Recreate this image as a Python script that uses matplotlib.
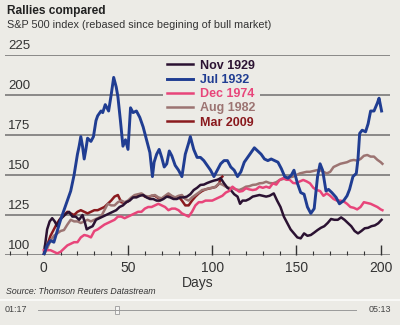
import matplotlib
matplotlib.use('Agg')
import matplotlib.pyplot as plt
from matplotlib import font_manager
from matplotlib.ticker import MultipleLocator

# --- data (days since start of rally, rebased index) ---
nov1929_days = [0, 1, 2, 3.5, 5, 6.5, 8, 9.5, 11.5, 13.5, 15, 17, 19, 21, 23, 24.5, 25.5, 27, 29, 31, 33, 35, 37,
                39, 41, 43, 45, 47, 49, 51, 53, 55, 57, 59, 61, 63, 65, 67, 69, 71, 73, 75, 77, 79, 81, 83, 85, 87,
                89, 91, 93, 95, 97, 99, 101, 103, 105, 107, 109, 111, 113, 115, 116.5, 118, 120, 122, 124, 126,
                128, 130, 132, 134, 136.5, 138.5, 140.5, 142.5, 144.5, 146.5, 148.5, 150.5, 152.5, 154.5, 156.5,
                158.5, 160.5, 162.5, 164.5, 166.5, 168.5, 170.5, 172.5, 174.5, 176.5, 178.5, 180.5, 182.5, 184.5,
                186.5, 188.5, 190.5, 192.5, 194.5, 196.5, 198.5, 200.5]
nov1929_vals = [100, 108, 116, 121, 123, 121, 118, 122, 124, 126, 127, 124, 124, 122, 125, 120, 116, 117, 118, 122,
                123, 124, 125, 126, 127, 128, 130, 131, 133, 134, 136, 136, 137, 137.5, 136, 135, 135, 134, 134,
                135, 136.5, 136, 135, 135, 136, 136, 136.5, 138, 140.6, 142, 143.8, 144, 145, 145.8, 146.5, 147,
                148, 144.8, 142, 140.6, 138, 136.5, 132, 134, 134, 135, 136.5, 137, 137.5, 137, 136.5, 137, 138.5,
                134, 130, 124, 120, 116, 113.5, 111, 110.4, 113.5, 112, 112.5, 114, 115.6, 117, 118, 120, 122.5,
                122, 122, 123.5, 122, 120, 118, 115, 113.5, 115, 116.7, 117, 118, 118.5, 119.8, 122]

jul1932_days = [0, 2, 4, 6, 8, 10, 12, 14, 16, 18, 20, 21, 22, 23, 24, 25, 26, 28, 29.5, 31, 32, 34, 35, 36.5, 38.5,
                40, 41.5, 43, 44, 45.5, 47, 48.5, 50, 51.5, 53, 55, 57, 59, 61, 63, 64.5, 65.5, 67, 68.5, 70, 71.5,
                73, 74.5, 76, 78, 80, 82, 84, 86, 87, 89, 91, 93, 95, 97, 99, 101, 103, 105, 107, 109, 111, 113,
                115, 117, 119, 121, 123, 125, 127, 129, 131, 133, 135, 137, 139, 141, 143, 145, 147, 148.5, 150.5,
                152.5, 154.5, 156.5, 158.5, 160.5, 162.5, 164, 165.5, 167.5, 169, 171, 173.5, 175.5, 178, 180,
                181.5, 183.5, 185.5, 186.5, 187.5, 189, 191, 192.5, 194, 196, 198, 199, 200.5]
jul1932_vals = [100, 106, 109, 108, 115, 122, 128, 134, 140, 150, 163, 168, 174, 168, 160, 166, 173, 171, 174, 184,
                187, 190, 189, 194, 190, 200, 211, 205, 199, 184, 168, 172, 166, 192, 189, 190, 186, 180, 172, 164,
                149, 158, 163, 166, 161, 155, 157, 165, 162, 156, 153, 149, 163, 170, 174, 166, 161, 161, 159, 156,
                153, 149, 153, 157, 159, 159, 155, 153, 149, 152, 158, 161, 164, 167, 165, 163, 160, 159, 160, 159,
                158, 154, 149, 148, 150, 153, 145, 139, 138, 130, 126, 129, 149, 157, 153, 140, 141, 139, 136, 132,
                134, 137, 141, 149, 151, 160, 176, 178, 177, 182, 190, 190, 195, 198, 190]

dec1974_days = [0, 2, 4, 6, 8, 10, 12, 14, 16, 18, 20, 22, 24, 26, 28, 30, 32, 34, 36, 38, 40, 42, 44, 46, 48, 50,
                52, 54, 56, 58, 60, 62, 64, 66, 68, 70, 72, 74, 76, 78, 80, 82, 84, 86, 88, 90, 92, 94, 96, 98, 100,
                102, 104, 106, 108, 110, 112, 114, 116, 118, 120, 122, 124, 126, 128, 130, 132, 134, 136, 138, 140,
                142, 144, 146, 148, 150, 152, 154, 156, 158, 160, 162, 164, 166, 168, 170, 172, 174, 176, 178, 180,
                182, 184, 186, 188, 190, 192, 194, 196, 198, 200, 201]
dec1974_vals = [103, 103, 103, 102, 101, 102, 104, 106, 107, 108, 108, 111, 112.5, 112, 111, 115, 116, 117.5, 119,
                120, 121, 122, 124, 124, 123, 124, 125, 126, 127, 127, 129, 130, 130, 131, 132, 131, 130, 128, 129,
                129, 128, 126, 125, 124, 127, 131, 133, 133, 134, 134, 134, 135, 136, 137, 139, 140, 142.7, 141,
                139.6, 140, 141.7, 141, 140.6, 141, 142.7, 142, 142.7, 142, 144.8, 144, 146.9, 148, 147, 147, 145,
                144.8, 146, 146.9, 146, 144.8, 142, 140.6, 140, 137, 138.5, 137, 135, 134, 134, 133.5, 132, 130,
                129.5, 128.5, 130, 133, 132.5, 132, 131, 130, 128.5, 128]

aug1982_days = [0, 2, 4, 6, 8, 10, 12, 14, 16, 18, 20, 22, 24, 26, 28, 30, 32, 34, 36, 38, 40, 42, 44, 46, 48, 50,
                52, 54, 56, 58, 60, 62, 64, 66, 68, 70, 72, 74, 76, 78, 80, 82, 84, 86, 88, 90, 92, 94, 96, 98, 100,
                102, 104, 106, 108, 110, 112, 114, 116, 118, 120, 122, 124, 126, 128, 130, 132, 134, 136, 138, 140,
                142, 144, 146, 148, 150, 152, 154, 156, 158, 160, 162, 164, 166, 168, 170, 172, 174, 176, 178, 180,
                182, 184, 186, 188, 190, 192, 194, 196, 198, 200, 201]
aug1982_vals = [100, 104, 109, 112, 113.5, 115, 115.6, 119, 122, 121, 121, 120, 121, 122, 121, 122, 123, 124, 128,
                132, 131, 131, 133, 134, 133, 134, 136, 137.5, 138, 138.5, 137, 136.5, 137, 137.5, 136, 135.4, 137,
                138.5, 137, 136, 137, 137.5, 135, 134, 136, 137.5, 139, 140.6, 141, 141.7, 142, 142.7, 144.8, 144,
                142.7, 142, 141.7, 141, 140.6, 141.5, 142.7, 143, 143.8, 144, 144.8, 145, 145.8, 145, 144.8, 145.5,
                146.9, 147.5, 148, 148.5, 149, 150, 151, 151.5, 152, 152, 152.5, 153, 153, 152, 151, 152, 155, 156,
                157, 157.5, 158, 159, 159.4, 159, 160, 162, 162.5, 161.5, 161.5, 159.5, 158, 157]

mar2009_days = [0, 2, 4, 6, 8, 10, 12, 14, 16, 18, 20, 22, 24, 26, 28, 30, 32, 34, 36, 38, 40, 42, 44, 46, 48, 50,
                52, 54, 56, 58, 60, 62, 64, 66, 68, 70, 72, 74, 76, 78, 80, 82, 84, 86, 88, 90, 92, 94, 96, 98, 100,
                102, 104, 105, 106]
mar2009_vals = [100, 106, 112, 116, 120, 123, 125, 127, 126, 125, 127, 128, 127, 126, 127, 128, 128, 129, 130, 132,
                134, 136.5, 137.5, 133, 132.5, 133.5, 135.5, 137, 137.5, 138, 136.5, 136, 137, 137, 135.5, 135,
                136.5, 138, 136.5, 135.5, 136.5, 134, 131, 131, 134, 136.5, 138.5, 140, 141, 141.5, 142, 142.5,
                144.5, 148, 149]

y_ticks = [100, 125, 150, 175, 200, 225]
x_ticks = [0, 50, 100, 150, 200]

# --- style ---
BG = '#ecebe6'
GRID = '#6f6f6f'
TXT = '#333333'
names = {f.name for f in font_manager.fontManager.ttflist}
NARROW = 'Liberation Sans Narrow' if 'Liberation Sans Narrow' in names else 'Liberation Sans'
plt.rcParams['font.family'] = [NARROW, 'DejaVu Sans']

fig = plt.figure(figsize=(4, 3.25), dpi=100, facecolor=BG)
W, H = 400.0, 325.0
# axes spans the gridlines: x 5..390 px, y 55..255 px from top
ax = fig.add_axes([5 / W, 1 - 255 / H, 385 / W, 200 / H])
ax.set_facecolor(BG)
ax.set_xlim(-23, 205.5)
ax.set_ylim(100, 225)

for s in ax.spines.values():
    s.set_visible(False)

for yv in y_ticks:
    ax.axhline(yv, color=GRID, lw=1.1, zorder=1)
    ax.text(0.008, yv + 1.6, str(yv), transform=ax.get_yaxis_transform(), fontsize=9.5,
            color=TXT, va='bottom', ha='left')
ax.set_yticks([])

ax.xaxis.set_major_locator(MultipleLocator(50))
ax.xaxis.set_minor_locator(MultipleLocator(10))
ax.tick_params(axis='x', which='major', direction='in', length=7, width=1, color=TXT,
               labelsize=10, labelcolor=TXT, pad=4)
ax.tick_params(axis='x', which='minor', direction='in', length=3, width=0.8, color=TXT)
ax.set_xticks(x_ticks)
ax.set_xticklabels([str(x) for x in x_ticks])
ax.set_xlabel('Days', fontsize=10, color=TXT, labelpad=1)

lw = 1.8
l_mar, = ax.plot(mar2009_days, mar2009_vals, color='#8a1a1e', lw=lw, zorder=2, label='Mar 2009')
l_aug, = ax.plot(aug1982_days, aug1982_vals, color='#9c7472', lw=lw, zorder=3, label='Aug 1982')
l_nov, = ax.plot(nov1929_days, nov1929_vals, color='#2b1232', lw=lw, zorder=4, label='Nov 1929')
l_dec, = ax.plot(dec1974_days, dec1974_vals, color='#e8457a', lw=lw, zorder=5, label='Dec 1974')
l_jul, = ax.plot(jul1932_days, jul1932_vals, color='#203d92', lw=lw + 0.3, zorder=6, label='Jul 1932')

handles = [l_nov, l_jul, l_dec, l_aug, l_mar]
leg = ax.legend(handles=handles, loc='upper left', bbox_to_anchor=(163 / W, 1 - 56 / H),
                bbox_transform=fig.transFigure, frameon=True, facecolor=BG, edgecolor='none',
                framealpha=1, fancybox=False, handlelength=2.1, handletextpad=0.6,
                labelspacing=0.18, borderpad=0.3, borderaxespad=0,
                prop={'weight': 'bold', 'size': 9})
leg.set_zorder(10)
for txt, h in zip(leg.get_texts(), handles):
    txt.set_color(h.get_color())

# titles and source
fig.text(7 / W, 1 - 11 / H, 'Rallies compared', fontsize=8.6, fontweight='bold', color='#222222',
         va='center', ha='left')
fig.text(7 / W, 1 - 25 / H, 'S&P 500 index (rebased since begining of bull market)', fontsize=7.8,
         color=TXT, va='center', ha='left')
fig.text(6 / W, 1 - 292 / H, 'Source: Thomson Reuters Datastream', fontsize=6.3, style='italic',
         color=TXT, va='center', ha='left')

# video player strip at the bottom
fig.add_artist(plt.Line2D([0, 1], [1 - 300 / H] * 2, color='#fbfbfa', lw=1.2))
fig.text(5 / W, 1 - 310 / H, '01:17', fontsize=6.5, color='#444444', va='center', ha='left')
fig.text(391 / W, 1 - 310 / H, '05:13', fontsize=6.5, color='#444444', va='center', ha='right')
fig.add_artist(plt.Line2D([38 / W, 356 / W], [1 - 310 / H] * 2, color='#9a9a9a', lw=0.7))
fig.add_artist(plt.Rectangle((115 / W, 1 - 314 / H), 4 / W, 8 / H, facecolor='#f4f4f2',
                             edgecolor='#9a9a9a', lw=0.6))

fig.savefig('out.png', dpi=100, facecolor=BG)
